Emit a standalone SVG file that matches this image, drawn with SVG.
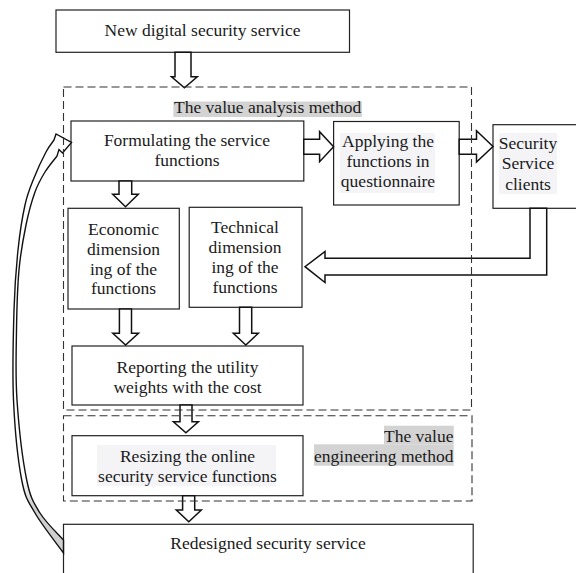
<svg xmlns="http://www.w3.org/2000/svg" width="576" height="573" viewBox="0 0 576 573">
<defs>
<style>
.box{fill:#fff;stroke:#222;stroke-width:1.2}
.dash{fill:none;stroke:#333;stroke-width:1.1;stroke-dasharray:8,4}
.arr{fill:#fff;stroke:#111;stroke-width:1.5;stroke-linejoin:miter}
.t{font-family:"Liberation Serif","Times New Roman",serif;font-size:17.5px;fill:#1a1a1a;text-anchor:middle}
.r{text-anchor:end}
.hl{fill:#d3d3d3}
.lt{fill:#f4f4f7}
</style>
<linearGradient id="curveFill" gradientUnits="userSpaceOnUse" x1="0" y1="134" x2="0" y2="555">
<stop offset="0" stop-color="#fff"/>
<stop offset="0.82" stop-color="#fff"/>
<stop offset="0.88" stop-color="#cfcfcf"/>
<stop offset="1" stop-color="#cfcfcf"/>
</linearGradient>
</defs>
<rect width="576" height="573" fill="#fff"/>

<g id="node-new">
<rect class="box" x="56" y="10" width="293.5" height="42.3"/>
<text class="t" x="202.5" y="36">New digital security service</text>
</g>

<g id="node-formulating">
<rect class="box" x="71" y="121" width="232.8" height="60"/>
<text class="t" x="187" y="146">Formulating the service</text>
<text class="t" x="187" y="166">functions</text>
</g>

<g id="node-applying">
<rect class="box" x="333.6" y="121.5" width="125.6" height="83.5"/>
<rect class="lt" x="340" y="133" width="95" height="60"/>
<text class="t" x="388" y="146.7">Applying the</text>
<text class="t" x="388" y="166.7">functions in</text>
<text class="t" x="388" y="186.7">questionnaire</text>
</g>

<g id="node-clients">
<rect class="box" x="493" y="124.7" width="100" height="83.6"/>
<rect class="lt" x="499" y="133" width="58" height="61"/>
<text class="t" x="528" y="148.5">Security</text>
<text class="t" x="528" y="169">Service</text>
<text class="t" x="528" y="189.5">clients</text>
</g>

<g id="node-economic">
<rect class="box" x="68" y="208.3" width="111.3" height="100.7"/>
<text class="t" x="123.5" y="235">Economic</text>
<text class="t" x="123.5" y="255">dimension</text>
<text class="t" x="123.5" y="274.5">ing of the</text>
<text class="t" x="123.5" y="294">functions</text>
</g>

<g id="node-technical">
<rect class="box" x="189.2" y="207.3" width="112.8" height="100"/>
<text class="t" x="245" y="233.3">Technical</text>
<text class="t" x="245" y="253.3">dimension</text>
<text class="t" x="245" y="273.3">ing of the</text>
<text class="t" x="245" y="292.7">functions</text>
</g>

<g id="node-reporting">
<rect class="box" x="72" y="346" width="231" height="59"/>
<text class="t" x="187.5" y="372.7">Reporting the utility</text>
<text class="t" x="187.5" y="392.7">weights with the cost</text>
</g>

<g id="node-resizing">
<rect class="box" x="72" y="435.7" width="231" height="60"/>
<rect class="lt" x="97" y="445" width="179" height="41"/>
<text class="t" x="187.5" y="461.7">Resizing the online</text>
<text class="t" x="187.5" y="481.7">security service functions</text>
</g>

<g id="node-redesigned">
<rect class="box" x="63.5" y="524.3" width="409.7" height="60"/>
<text class="t" x="268" y="549.3">Redesigned security service</text>
</g>

<g id="connectors">
<path class="arr" d="M175,52.3 V76.7 H171.5 L184.4,87.7 L197.3,76.7 H191 V52.3 Z"/>
<path class="arr" d="M303.8,139.3 H319.6 V131.7 L333.6,146.7 L319.6,161.7 V154.3 H303.8 Z"/>
<path class="arr" d="M459.2,139.3 H476.5 V130.7 L493,146.5 L476.5,162 V154.3 H459.2 Z"/>
<path class="arr" d="M119,181 V194.3 H112.7 L125.5,206.7 L138.3,194.3 H131.7 V181 Z"/>
<path class="arr" d="M119.4,309 V333.3 H112.8 L125.6,345 L138.5,333.3 H131.5 V309 Z"/>
<path class="arr" d="M239.5,307.3 V333.3 H233.3 L245.8,345 L258.3,333.3 H251.7 V307.3 Z"/>
<path class="arr" d="M180,405 V421.7 H173.4 L185.9,432.7 L198.4,421.7 H192 V405 Z"/>
<path class="arr" d="M182.6,495.7 V510 H176.3 L188.8,521.7 L201.3,510 H194.7 V495.7 Z"/>
<path class="arr" d="M530,208.3 V258.3 H325 V251.5 L305,266.7 L325,282.5 V275 H546.7 V208.3 Z"/>
<path fill="url(#curveFill)" stroke="#111" stroke-width="1.4" stroke-linejoin="miter" d="M63.5,553 C58.75,546.3 41.97,525.2 35,513 C28.03,500.8 25.28,498.8 21.7,480 C18.12,461.2 14.78,428.3 13.5,400 C12.22,371.7 13.25,335 14,310 C14.75,285 16.17,267.5 18,250 C19.83,232.5 22.33,217 25,205 C27.67,193 30.5,186.8 34,178 C37.5,169.2 42.67,158.3 46,152 C49.33,145.7 52.67,142 54,140 L56,134 L71.5,142.5 L62.5,153 L59,149.5 L57,156 C55,158.7 48.67,166 45,172 C41.33,178 38.17,183.2 35,192 C31.83,200.8 28.67,212 26,225 C23.33,238 20.58,252.5 19,270 C17.42,287.5 16.83,308.3 16.5,330 C16.17,351.7 15.3,375 17,400 C18.7,425 22.87,461.2 26.7,480 C30.53,498.8 33.87,503 40,513 C46.13,523 59.58,535.5 63.5,540 Z"/>
</g>

<g id="group-value-analysis">
<rect class="dash" x="63.5" y="87" width="408" height="323"/>
<rect class="hl" x="173.4" y="101.5" width="188.5" height="15.5"/>
<text class="t" x="267.6" y="113.3">The value analysis method</text>
</g>

<g id="group-value-engineering">
<rect class="dash" x="63.5" y="415.7" width="408.5" height="85.3"/>
<rect class="hl" x="384" y="425.7" width="69.7" height="18.6"/>
<rect class="hl" x="314" y="444.3" width="139.7" height="21.4"/>
<text class="t r" x="453.5" y="441.7">The value</text>
<text class="t r" x="453.5" y="461.7">engineering method</text>
</g>
</svg>
